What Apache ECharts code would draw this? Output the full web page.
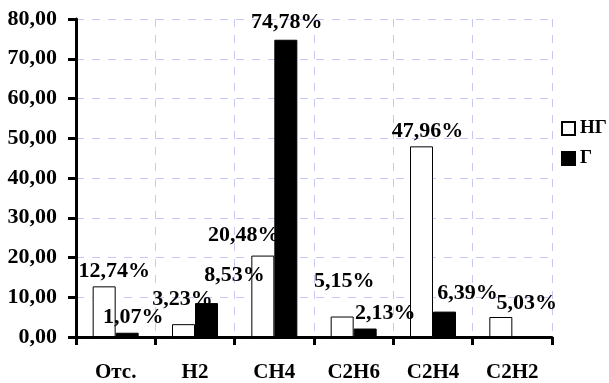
<!DOCTYPE html>
<html>
<head>
<meta charset="utf-8">
<script src="https://cdn.jsdelivr.net/npm/echarts@6/dist/echarts.min.js"></script>
<style>
	html, body { margin: 0; padding: 0; background: #fff; }
	#chart { width: 609px; height: 383px; }
</style>
</head>
<body>
<div id="chart"></div>
<script>
	// категории и значения
	var categories = ['Отс.', 'H2', 'CH4', 'C2H6', 'C2H4', 'C2H2'];
	var seriesNames = ['НГ', 'Г'];
	var valuesNG = [12.74, 3.23, 20.48, 5.15, 47.96, 5.03];
	var valuesG = [1.07, 8.53, 74.78, 2.13, 6.39, null];

	// смещения подписей (как в исходной картинке)
	var offsetsNG = [[10, 0], [-1, -10], [-19, -5], [2, -20], [6, 0], [26, 1]];
	var offsetsG = [[6, 0], [28, -13], [1, -2], [20, 0], [23, -3], [0, 0]];

	var font = 'Liberation Serif, Times New Roman, serif';

	function fmt(v) {
		return v.toFixed(2).replace('.', ',');
	}

	function buildData(values, offsets) {
		var arr = [];
		for (var i = 0; i < values.length; i++) {
			arr.push({
				value: values[i],
				label: { offset: offsets[i] }
			});
		}
		return arr;
	}

	var labelStyle = {
		show: true,
		position: 'top',
		distance: 4,
		fontFamily: font,
		fontWeight: 'bold',
		fontSize: 22,
		color: '#000',
		formatter: function(p) {
			return p.value == null ? '' : fmt(p.value) + '%';
		}
	};

	var option = {
		animation: false,
		backgroundColor: '#fff',
		textStyle: { fontFamily: font },
		grid: {
			left: 76,
			right: 57,
			top: 19,
			bottom: 44
		},
		legend: {
			orient: 'vertical',
			left: 556,
			top: 114,
			itemWidth: 13,
			itemHeight: 13,
			itemGap: 11,
			icon: 'rect',
			textStyle: {
				fontFamily: font,
				fontWeight: 'bold',
				fontSize: 19,
				color: '#000'
			},
			data: seriesNames
		},
		xAxis: {
			type: 'category',
			data: categories,
			axisLine: { lineStyle: { color: '#000', width: 3 } },
			axisTick: { show: true, length: 8, lineStyle: { color: '#000', width: 3 } },
			axisLabel: {
				margin: 25,
				fontFamily: font,
				fontWeight: 'bold',
				fontSize: 21,
				color: '#000'
			},
			splitLine: {
				show: true,
				lineStyle: { color: '#c8c8f8', type: [8, 8], width: 1 }
			}
		},
		yAxis: {
			type: 'value',
			min: 0,
			max: 80,
			interval: 10,
			axisLine: { show: true, lineStyle: { color: '#000', width: 3 } },
			axisTick: { show: true, length: 8, lineStyle: { color: '#000', width: 3 } },
			axisLabel: {
				margin: 19,
				fontFamily: font,
				fontWeight: 'bold',
				fontSize: 22,
				color: '#000',
				formatter: function(v) { return fmt(v); }
			},
			splitLine: {
				show: true,
				lineStyle: { color: '#c8c8f8', type: [8, 8], width: 1 }
			}
		},
		series: [{
			name: seriesNames[0],
			type: 'bar',
			barWidth: 23,
			barGap: '0%',
			itemStyle: { color: '#fff', borderColor: '#000', borderWidth: 1 },
			label: labelStyle,
			data: buildData(valuesNG, offsetsNG)
		}, {
			name: seriesNames[1],
			type: 'bar',
			barWidth: 23,
			barGap: '0%',
			itemStyle: { color: '#000', borderColor: '#000', borderWidth: 1 },
			label: labelStyle,
			data: buildData(valuesG, offsetsG)
		}]
	};

	echarts.init(document.getElementById('chart')).setOption(option);
</script>
</body>
</html>
